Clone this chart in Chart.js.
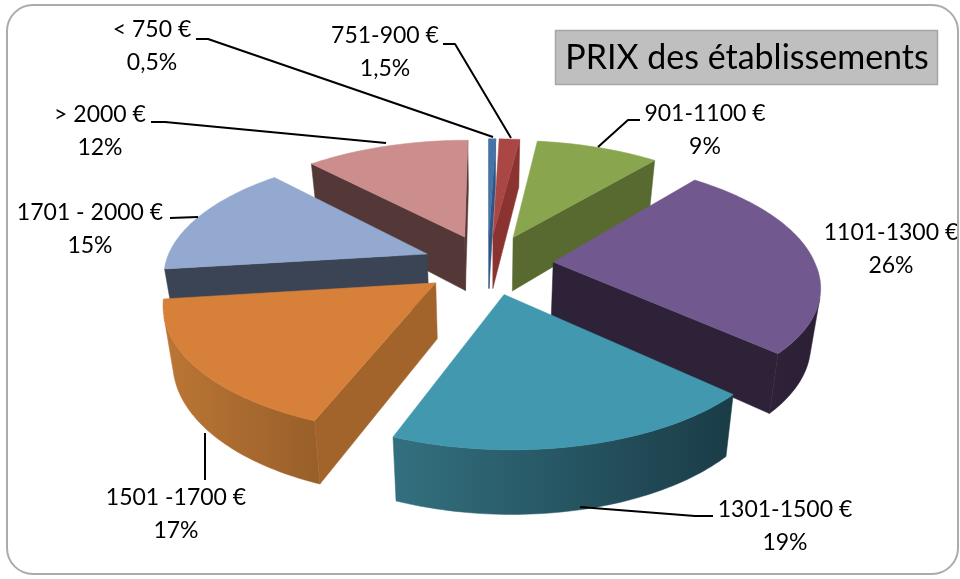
<!DOCTYPE html>
<html><head><meta charset="utf-8">
<style>html,body{margin:0;padding:0;background:#fff}canvas{display:block}</style>
<script src="https://cdn.jsdelivr.net/npm/chart.js@4"></script>
</head><body>
<canvas id="c" width="960" height="579"></canvas>
<script>
// ---- data ----
const categories = ['< 750 €','751-900 €','901-1100 €','1101-1300 €','1301-1500 €','1501 -1700 €','1701 - 2000 €','> 2000 €'];
const values = [0.5,1.5,9,26,19,17,15,12];
const percentLabels = ['0,5%','1,5%','9%','26%','19%','17%','15%','12%'];
const chartTitle = 'PRIX des établissements';
// ---- styles ----
const topColors  = ['#4572A7','#AA4643','#89A54E','#71588F','#4198AF','#D7803A','#93A9CF','#CC8E8C'];
const sideColors = ['#2F5585','#8A3331','#586A30','#2D2238','#2C6878','#A3642B','#3A4455','#543838'];
const wallLeft   = ['#2F5585','#8A3331','#586A30','#35283F','#33707F','#BC7635','#3F4A5C','#543838'];
const wallRight  = ['#2F5585','#8A3331','#586A30','#2A1F35','#1A3C47','#99602A','#3A4455','#543838'];
// ---- view of the tilted pie ----
const VIEW = {a:262,b:120,k:0.158,depth:55,kd:0.12,shrink:0.03,skew:5};
const OFFSET = 58.67;
// ---- label layout: [centre x, first line y, leader polyline]
const LABEL_X = [152,385,705,891,785,176,90,100];
const LABEL_Y = [30,36,114,233,510,498,213,115];
const LEADERS = [
 [[196,39],[208,39],[493,137]],
 [[443,44],[455,44],[511,138]],
 [[640,120],[628,120],[598,147]],
 [],
 [[713,516],[695,516],[580,507]],
 [[205,433],[205,480]],
 [[170,218],[198,217]],
 [[151,122],[165,122],[386,143]]
];

function project(cx,cy,u,v,z){
  const w = 1 - VIEW.k*v, s = 1 - VIEW.shrink*z;
  return [cx + VIEW.a*u/w*s + VIEW.skew*Math.max(v,0), cy + VIEW.b*v/w + VIEW.depth*z/(1 - VIEW.kd*v)];
}
function area(p){let s=0;for(let i=0;i<p.length;i++){const q=p[(i+1)%p.length];s+=p[i][0]*q[1]-q[0]*p[i][1];}return s/2;}
function poly(ctx,p,fill){
  ctx.beginPath();p.forEach((q,i)=>i?ctx.lineTo(q[0],q[1]):ctx.moveTo(q[0],q[1]));ctx.closePath();
  ctx.fillStyle=fill;ctx.strokeStyle=fill;ctx.lineWidth=0.5;ctx.fill();ctx.stroke();
}
const pie3d = {
  id:'pie3d',
  beforeDatasetDraw(chart,args){
    const ctx=chart.ctx, arcs=chart.getDatasetMeta(args.index).data;
    const items=arcs.map((arc,i)=>{
      const p=arc.getProps(['x','y','startAngle','endAngle','outerRadius'],true);
      const mid=(p.startAngle+p.endAngle)/2, d=arc.options.offset/p.outerRadius;
      return {i,p,ou:Math.cos(mid)*d,ov:Math.sin(mid)*d,mid};
    });
    items.sort((a,b)=>(a.ov+Math.sin(a.mid))-(b.ov+Math.sin(b.mid)));
    items.forEach(it=>{
      const {i,p,ou,ov}=it, cx=p.x, cy=p.y;
      const n=Math.max(2,Math.ceil((p.endAngle-p.startAngle)/0.02));
      const rim=[];
      for(let j=0;j<=n;j++){const a=p.startAngle+(p.endAngle-p.startAngle)*j/n;rim.push([ou+Math.cos(a),ov+Math.sin(a)]);}
      const T=q=>project(cx,cy,q[0],q[1],0), B=q=>project(cx,cy,q[0],q[1],1);
      const tip=[ou,ov];
      // outer wall: one polygon per run of visible strips
      const xs=rim.map(q=>T(q)[0]), x0=Math.min(...xs), x1=Math.max(...xs);
      const g=ctx.createLinearGradient(x0,0,x1,0);
      g.addColorStop(0,wallLeft[i]);g.addColorStop(1,wallRight[i]);
      let run=[];
      const flush=()=>{
        if(run.length>1) poly(ctx,[...run.map(T),...run.slice().reverse().map(B)],g);
        run=[];
      };
      for(let j=0;j<n;j++){
        const quad=[T(rim[j]),T(rim[j+1]),B(rim[j+1]),B(rim[j])];
        if(area(quad)<0){ if(!run.length) run.push(rim[j]); run.push(rim[j+1]); }
        else flush();
      }
      flush();
      // radial walls
      [[tip,rim[0]],[rim[n],tip]].forEach(e=>{
        const quad=[T(e[0]),T(e[1]),B(e[1]),B(e[0])];
        if(area(quad)<0) poly(ctx,quad,sideColors[i]);
      });
      // top face
      poly(ctx,[T(tip),...rim.map(T)],topColors[i]);
    });
    return false;
  },
  afterDraw(chart){
    const ctx=chart.ctx;
    // leaders
    ctx.strokeStyle='#000';ctx.lineWidth=2;ctx.lineJoin='round';
    LEADERS.forEach(l=>{if(!l.length)return;ctx.beginPath();l.forEach((q,i)=>i?ctx.lineTo(q[0],q[1]):ctx.moveTo(q[0],q[1]));ctx.stroke();});
    // labels
    ctx.fillStyle='#000';ctx.textAlign='center';ctx.textBaseline='middle';
    ctx.font='23px Lato';
    categories.forEach((c,i)=>{
      ctx.fillText(c,LABEL_X[i],LABEL_Y[i]);
      ctx.fillText(percentLabels[i],LABEL_X[i],LABEL_Y[i]+33);
    });
    // title box
    ctx.fillStyle='#BFBFBF';ctx.fillRect(555.5,30.5,382,54);
    ctx.strokeStyle='#A6A6A6';ctx.lineWidth=1.5;ctx.strokeRect(555.5,30.5,382,54);
    ctx.fillStyle='#000';ctx.font='34px Lato';
    ctx.fillText(chartTitle,747,58);
    // frame
    ctx.strokeStyle='#ABABAB';ctx.lineWidth=2;
    ctx.beginPath();ctx.roundRect(7,5,951,569,26);ctx.stroke();
  }
};
new Chart(document.getElementById('c'),{
  type:'pie',
  data:{labels:categories,datasets:[{data:values,backgroundColor:topColors,offset:OFFSET,borderWidth:0}]},
  options:{responsive:false,animation:false,layout:{padding:{left:16,bottom:51}},
    plugins:{legend:{display:false},tooltip:{enabled:false},title:{display:false}}},
  plugins:[pie3d]
});
</script>
</body></html>
